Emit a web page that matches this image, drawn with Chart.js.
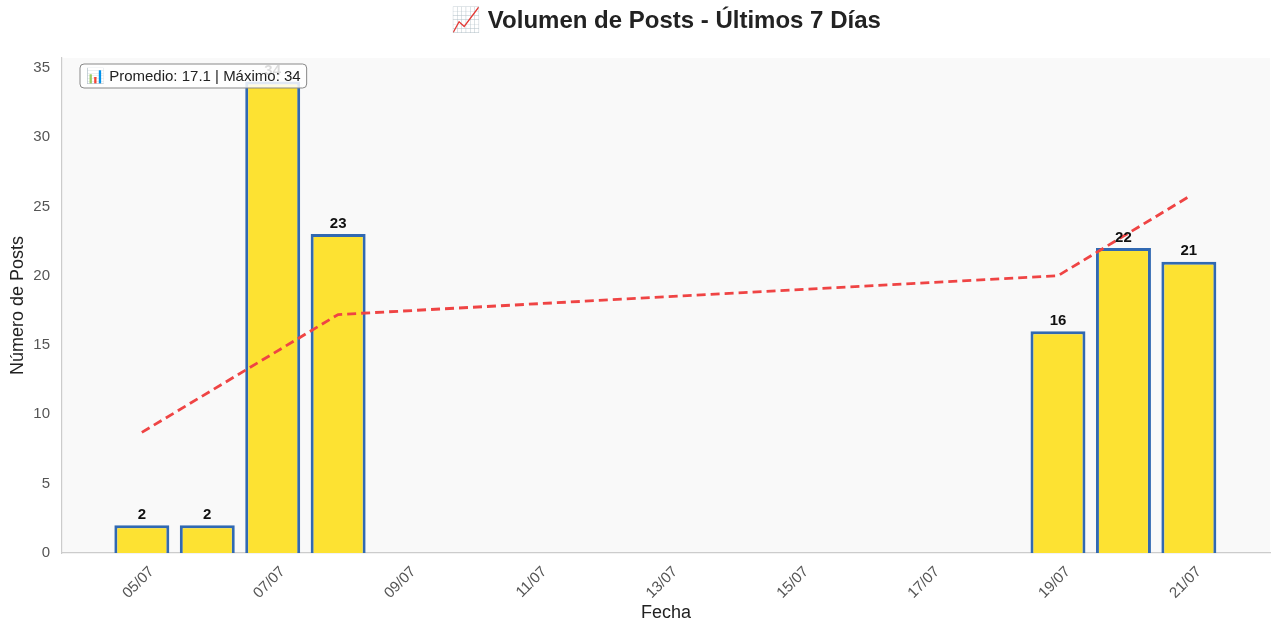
<!DOCTYPE html>
<html>
<head>
<meta charset="utf-8">
<script src="https://cdn.jsdelivr.net/npm/chart.js@4.4.1/dist/chart.umd.min.js"></script>
<style>
  html, body { margin: 0; padding: 0; background: #fff; }
  canvas { display: block; }
</style>
</head>
<body>
<canvas id="postsChart" width="1280" height="633"></canvas>
<script>
// =========================================================
// Data (day of July)
const barDays = [5, 6, 7, 8, 19, 20, 21];
const barValues = [2, 2, 34, 23, 16, 22, 21];
const trendDays = [5, 8, 19, 21];
const trendValues = [8.7, 17.2, 20.0, 25.7];
const xTickDays = [5, 7, 9, 11, 13, 15, 17, 19, 21];
const yTicks = [0, 5, 10, 15, 20, 25, 30, 35];
const monthLabel = '07';

const chartTitle = '📈 Volumen de Posts - Últimos 7 Días';
const xTitle = 'Fecha';
const yTitle = 'Número de Posts';

// Style
const fontFamily = "'Liberation Sans', Arial, Helvetica, sans-serif";
const barFill = '#FDE232';
const barBorder = '#3169B2';
const trendColor = '#EF4444';
const plotBg = '#F9F9F9';
const spineColor = '#CCCCCC';
const tickColor = '#555555';
const textColor = '#222222';

const pad2 = n => String(n).padStart(2, '0');
const avg = barValues.reduce((a, b) => a + b, 0) / barValues.length;
const maxVal = Math.max(...barValues);
const statsText = `📊 Promedio: ${avg.toFixed(1)} | Máximo: ${maxVal}`;

// =======================
// Custom drawing plugin
// =======================
const decorPlugin = {
  id: 'decor',
  beforeDraw(chart) {
    const { ctx, chartArea: a } = chart;
    ctx.save();
    ctx.fillStyle = plotBg;
    ctx.fillRect(a.left, a.top, a.right - a.left, a.bottom - a.top);
    ctx.restore();
  },
  afterDraw(chart) {
    const { ctx, chartArea: a } = chart;
    ctx.save();

    // title
    ctx.fillStyle = textColor;
    ctx.font = `bold 24px ${fontFamily}`;
    ctx.textAlign = 'center';
    ctx.textBaseline = 'middle';
    ctx.fillText(chartTitle, (a.left + a.right) / 2, 21);

    // value labels on bars
    const meta = chart.getDatasetMeta(1);
    ctx.font = `bold 15px ${fontFamily}`;
    ctx.textBaseline = 'bottom';
    ctx.fillStyle = '#111';
    meta.data.forEach((bar, i) => {
      ctx.fillText(String(barValues[i]), bar.x, bar.y - 3);
    });

    // stats box
    ctx.font = `15px ${fontFamily}`;
    const w = ctx.measureText(statsText).width + 12;
    const bx = a.left + 18, by = a.top + 6, bh = 24;
    ctx.beginPath();
    ctx.roundRect(bx, by, w, bh, 4);
    ctx.fillStyle = 'rgba(255,255,255,0.85)';
    ctx.fill();
    ctx.strokeStyle = '#888';
    ctx.lineWidth = 1;
    ctx.stroke();
    ctx.fillStyle = textColor;
    ctx.textAlign = 'left';
    ctx.textBaseline = 'middle';
    ctx.fillText(statsText, bx + 6, by + bh / 2 + 1);

    ctx.restore();
  }
};

// =======================
// Chart Configuration
// =======================
const ctx = document.getElementById('postsChart').getContext('2d');

new Chart(ctx, {
  type: 'bar',
  data: {
    datasets: [
      {
        type: 'line',
        data: trendDays.map((d, i) => ({ x: d, y: trendValues[i] })),
        borderColor: trendColor,
        borderWidth: 2.8,
        borderDash: [9, 5],
        pointRadius: 0,
        fill: false,
        tension: 0,
        order: 0
      },
      {
        type: 'bar',
        data: barDays.map((d, i) => ({ x: d, y: barValues[i] })),
        backgroundColor: barFill,
        borderColor: barBorder,
        borderWidth: 3,
        barPercentage: 0.84,
        categoryPercentage: 1,
        order: 1
      }
    ]
  },
  options: {
    responsive: false,
    animation: false,
    devicePixelRatio: 1,
    layout: { padding: { top: 58, right: 10, left: 0, bottom: 0 } },
    plugins: {
      legend: { display: false },
      title: { display: false },
      tooltip: { enabled: false }
    },
    scales: {
      x: {
        type: 'linear',
        min: 3.78,
        max: 22.24,
        offset: false,
        grid: { display: false, drawTicks: false },
        border: { display: true, color: spineColor, width: 1.2 },
        afterBuildTicks: scale => {
          scale.ticks = xTickDays.map(v => ({ value: v }));
        },
        afterFit: scale => { scale.height = 80; },
        ticks: {
          autoSkip: false,
          minRotation: 45,
          maxRotation: 45,
          padding: 10,
          labelOffset: 10,
          color: tickColor,
          font: { family: fontFamily, size: 15 },
          callback: v => `${pad2(v)}/${monthLabel}`
        },
        title: {
          display: true,
          text: xTitle,
          color: textColor,
          font: { family: fontFamily, size: 18 },
          padding: { top: 0, bottom: 9 }
        }
      },
      y: {
        min: 0,
        max: 35.7,
        grid: { display: false, drawTicks: false },
        border: { display: true, color: spineColor, width: 1.2 },
        afterBuildTicks: scale => {
          scale.ticks = yTicks.map(v => ({ value: v }));
        },
        afterFit: scale => { scale.width = 62; },
        ticks: {
          padding: 12,
          color: tickColor,
          font: { family: fontFamily, size: 15 }
        },
        title: {
          display: true,
          text: yTitle,
          color: textColor,
          font: { family: fontFamily, size: 18 },
          padding: { top: 7, bottom: 0 }
        }
      }
    }
  },
  plugins: [decorPlugin]
});
</script>
</body>
</html>
